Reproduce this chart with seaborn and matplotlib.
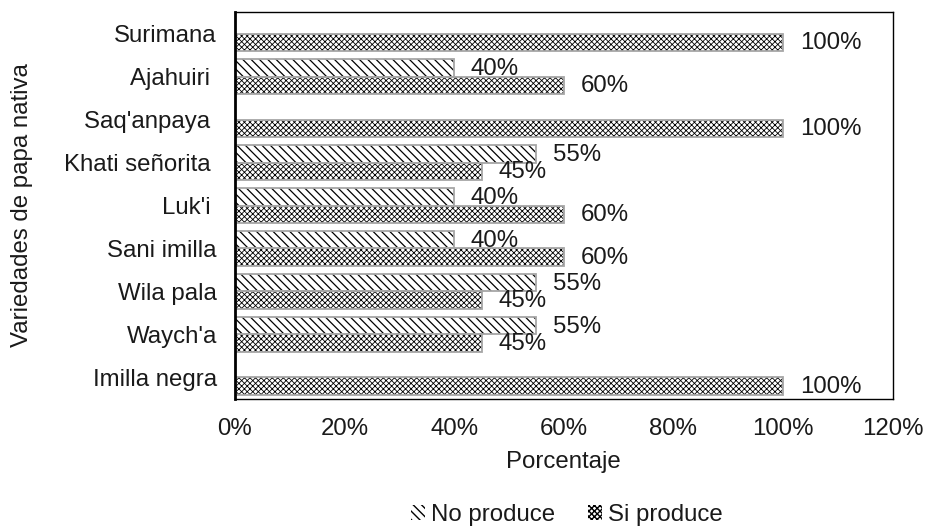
import matplotlib
matplotlib.use("Agg")
import matplotlib.pyplot as plt
import seaborn as sns
import pandas as pd
from matplotlib.patches import Patch, Rectangle
from matplotlib.ticker import FuncFormatter

variedades = ["Surimana", "Ajahuiri ", "Saq'anpaya ", "Khati señorita ", "Luk'i ",
              "Sani imilla", "Wila pala", "Waych'a", "Imilla negra"]
no_produce = [0, 40, 0, 55, 40, 40, 55, 55, 0]
si_produce = [100, 60, 100, 45, 60, 60, 45, 45, 100]
series = ["No produce", "Si produce"]

df = pd.DataFrame({
    "Variedad": variedades * 2,
    "Serie": [series[0]] * len(variedades) + [series[1]] * len(variedades),
    "Porcentaje": no_produce + si_produce,
})

sns.set_theme(style="white")
plt.rcParams["font.family"] = ["Liberation Sans", "DejaVu Sans"]
plt.rcParams["hatch.color"] = "black"
plt.rcParams["hatch.linewidth"] = 1.0

FS = 17.3
TXT = "#1a1a1a"
EDGE = "#a6a6a6"

styles = {
    "No produce": dict(facecolor="white", hatch="\\\\\\\\", hlw=0.9),
    "Si produce": dict(facecolor="white", hatch="xxxxxx", hlw=0.6),
}

fig = plt.figure(figsize=(9.25, 5.29), dpi=100)
ax = fig.add_axes([0.254, 0.246, 0.711, 0.731])

sns.barplot(data=df, y="Variedad", x="Porcentaje", hue="Serie",
            order=variedades, hue_order=series, orient="h",
            width=0.8, palette=["white", "white"], ax=ax, legend=False)


def style_bar(p, st):
    p.set_facecolor(st["facecolor"])
    p.set_edgecolor("black")
    p.set_hatch(st["hatch"])
    if hasattr(p, "set_hatchcolor"):
        p.set_hatchcolor("black")
    if hasattr(p, "set_hatch_linewidth"):
        p.set_hatch_linewidth(st["hlw"])
    p.set_linewidth(0)


for container, name, vals in zip(ax.containers, series, [no_produce, si_produce]):
    st = styles[name]
    for patch, v in zip(container.patches, vals):
        if v == 0:
            patch.set_visible(False)
            continue
        style_bar(patch, st)
        # thin grey outline around each hatched bar
        ax.add_patch(Rectangle((patch.get_x(), patch.get_y()), patch.get_width(),
                               patch.get_height(), fill=False, edgecolor=EDGE,
                               linewidth=1.3, zorder=patch.get_zorder() + 0.1))
        y = patch.get_y() + patch.get_height() / 2
        ax.annotate(f"{v}%", xy=(v, y), xytext=(12, -0.5),
                    textcoords="offset points", ha="left", va="center",
                    fontsize=FS, color=TXT)

ax.set_xlim(0, 120)
ax.set_xticks(range(0, 121, 20))
ax.xaxis.set_major_formatter(FuncFormatter(lambda x, _: f"{int(x)}%"))
ax.tick_params(axis="both", labelsize=FS, colors=TXT, length=0)
ax.tick_params(axis="x", pad=14)
ax.tick_params(axis="y", pad=13)
ax.set_xlabel("Porcentaje", fontsize=FS, color=TXT, labelpad=8)
ax.set_ylabel("Variedades de papa nativa", fontsize=FS, color=TXT, labelpad=22)

for side in ["top", "right", "bottom"]:
    ax.spines[side].set_color("black")
    ax.spines[side].set_linewidth(1.0)
ax.spines["left"].set_color("black")
ax.spines["left"].set_linewidth(2.0)

handles = []
for s in series:
    h = Patch(facecolor=styles[s]["facecolor"], hatch=styles[s]["hatch"],
              edgecolor="black", linewidth=0, label=s)
    handles.append(h)
fig.legend(handles=handles, loc="lower center", bbox_to_anchor=(0.613, -0.035),
           ncol=2, frameon=False, fontsize=FS, handlelength=0.6,
           handleheight=0.6, handletextpad=0.25, columnspacing=1.35,
           labelcolor=TXT)

fig.savefig("out.png", dpi=100)
